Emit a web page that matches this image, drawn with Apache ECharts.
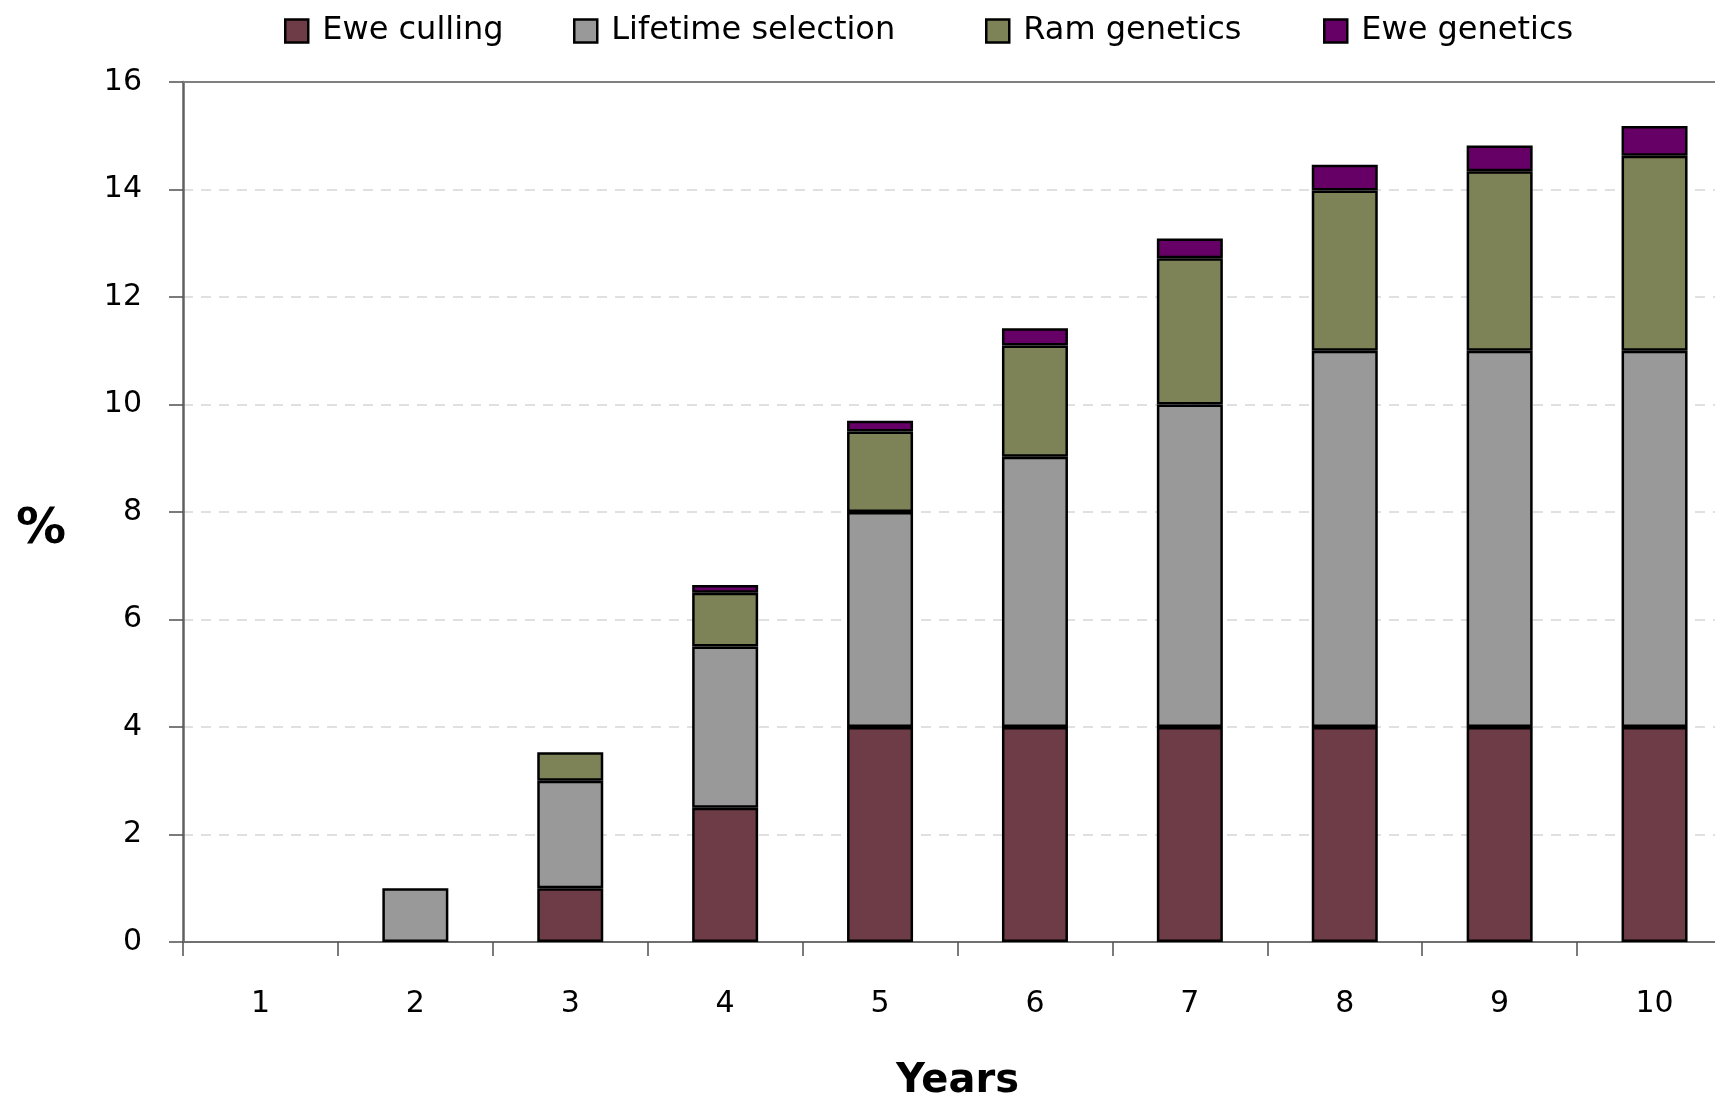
<!DOCTYPE html>
<html>
<head>
<meta charset="utf-8">
<script src="https://cdn.jsdelivr.net/npm/echarts@6/dist/echarts.min.js"></script>
<style>html,body{margin:0;padding:0;background:#fff}#c{width:1715px;height:1098px}</style>
</head>
<body>
<div id="c"></div>
<script>
const years = ['1','2','3','4','5','6','7','8','9','10'];
const eweCulling = [0, 0, 1, 2.5, 4, 4, 4, 4, 4, 4];
const lifetimeSelection = [0, 1, 2, 3, 4, 5.03, 6, 7, 7, 7];
const ramGenetics = [0, 0, 0.53, 1, 1.5, 2.07, 2.72, 2.98, 3.34, 3.63];
const eweGenetics = [0, 0, 0, 0.14, 0.2, 0.32, 0.37, 0.48, 0.48, 0.55];
const seriesNames = ['Ewe culling', 'Lifetime selection', 'Ram genetics', 'Ewe genetics'];
const yTicks = [0, 2, 4, 6, 8, 10, 12, 14, 16];

const colors = ['#6D3C46', '#999999', '#7E8257', '#660066'];
const seriesData = [eweCulling, lifetimeSelection, ramGenetics, eweGenetics];
const font = 'DejaVu Sans';

const chart = echarts.init(document.getElementById('c'));
const legendLefts = [284, 573, 985, 1323];
const legends = seriesNames.map((n, i) => ({
  data: [{ name: n, icon: 'rect' }],
  left: legendLefts[i],
  top: 15,
  itemWidth: 23,
  itemHeight: 23,
  itemGap: 0,
  padding: 0,
  textStyle: { fontFamily: font, fontSize: 32, color: '#000', padding: [0, 0, 0, 9] },
  itemStyle: { borderColor: '#000', borderWidth: 2.5 }
}));

chart.setOption({
  animation: false,
  textStyle: { fontFamily: font },
  legend: legends,
  grid: { left: 183, width: 1549, top: 82, bottom: 156, show: false, containLabel: false, outerBoundsMode: 'none' },
  xAxis: [{
    type: 'category',
    data: years,
    name: 'Years',
    nameLocation: 'middle',
    nameGap: 120,
    nameTextStyle: { fontFamily: font, fontSize: 40, fontWeight: 'bold', color: '#000' },
    axisLine: { lineStyle: { color: '#707070', width: 2 } },
    axisTick: { show: true, length: 14, lineStyle: { color: '#505050', width: 1.5 } },
    axisLabel: { fontFamily: font, fontSize: 30, color: '#000', margin: 47 }
  }, {
    type: 'category',
    data: years,
    position: 'top',
    axisLine: { show: true, lineStyle: { color: '#808080', width: 2 } },
    axisTick: { show: false },
    axisLabel: { show: false }
  }],
  yAxis: {
    type: 'value',
    min: yTicks[0],
    max: yTicks[yTicks.length - 1],
    interval: yTicks[1] - yTicks[0],
    name: '%',
    nameLocation: 'middle',
    nameRotate: 0,
    nameGap: 117,
    nameTextStyle: { fontFamily: font, fontSize: 50, fontWeight: 'bold', color: '#000', verticalAlign: 'top', lineHeight: 36 },
    axisLine: { show: true, lineStyle: { color: '#606060', width: 2.5 } },
    axisTick: { show: true, length: 14, lineStyle: { color: '#505050', width: 1.5 } },
    axisLabel: { fontFamily: font, fontSize: 30, color: '#000', margin: 41 },
    splitLine: { show: true, lineStyle: { color: '#d6d6d6', type: [10, 8], width: 1.5 } }
  },
  series: seriesNames.map((n, i) => ({
    name: n,
    type: 'bar',
    stack: 'total',
    barWidth: 66,
    data: seriesData[i].map(v => v === 0 ? '-' : v),
    itemStyle: { color: colors[i], borderColor: '#000', borderWidth: 2.5 }
  }))
});
</script>
</body>
</html>
